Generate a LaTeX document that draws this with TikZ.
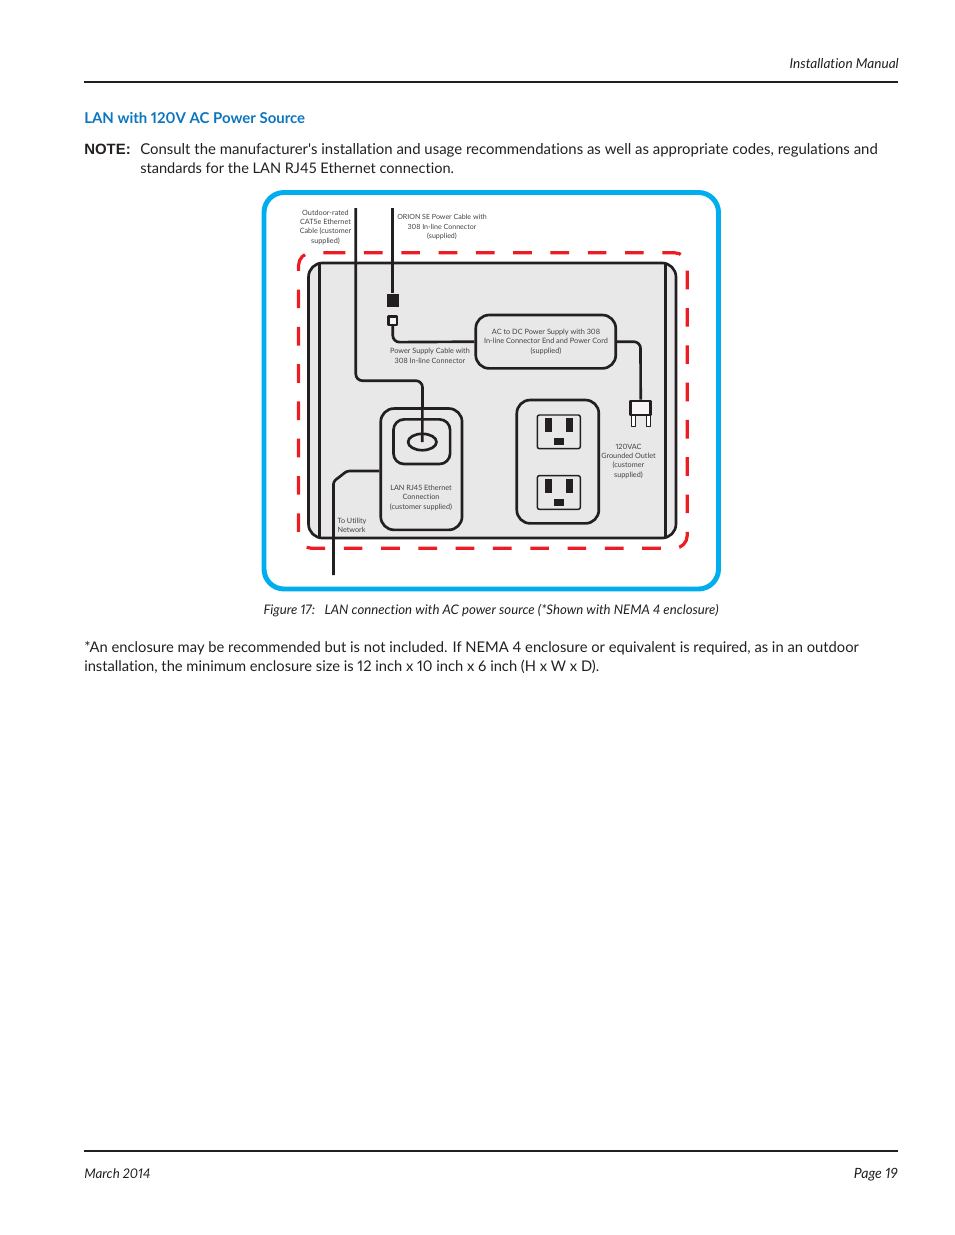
\documentclass[tikz,border=0pt]{standalone}
\usepackage{fontspec}
\setmainfont{Lato}[Ligatures=NoCommon,Numbers=Proportional]
\newfontfamily\notefont{Liberation Sans}
\usetikzlibrary{positioning,calc}
\definecolor{ink}{HTML}{231F20}
\definecolor{headcol}{HTML}{0B75C0}
\definecolor{framecol}{HTML}{00AEEF}
\definecolor{dashcol}{HTML}{ED1C24}
\definecolor{panelcol}{HTML}{E8E8E8}

\begin{document}
\begin{tikzpicture}[
  x=0.75pt, y=-0.75pt, line cap=butt, line join=round,
  body/.style={anchor=base west, inner sep=0pt, text=ink, font=\fontsize{11.2}{14.25}\selectfont},
  lbl/.style={align=center, inner sep=0pt, text=ink!85, font=\fontsize{5.45}{7}\selectfont},
  unit/.style={draw=ink, line width=2pt, rounded corners=10pt},
  cable/.style={draw=ink, line width=2pt, rounded corners=5pt},
  socket/.style={draw=ink, line width=1.1pt, rounded corners=1.5pt},
  slot/.style={fill=ink}]

\useasboundingbox (0,0) rectangle (954,1235);

% ================================================================ page furniture
\draw[ink, line width=1.5pt] (84,82) coordinate (headl) -- (898,82) coordinate (headr);
\node[body, anchor=base east, font=\fontsize{10.2}{12}\itshape\selectfont] (manual) at (899,68) {Installation Manual};
\node[body, text=headcol, font=\fontsize{11.2}{14}\bfseries\selectfont] (title) at (84,123) {LAN with 120V AC Power Source};
\node[body, font=\fontsize{11.2}{14}\notefont\bfseries\selectfont] (note) at (84,154) {NOTE:};
\node[body] (note1) at (140,154) {Consult the manufacturer\textquotesingle s installation and usage recommendations as well as appropriate codes, regulations and};
\node[body, font=\fontsize{10.92}{14}\selectfont] (note2) at (140,173) {standards for the LAN RJ45 Ethernet connection.};

% ================================================================ frame and enclosure
\draw[framecol, line width=3.7pt, rounded corners=15pt] (264,192.5) rectangle (718.5,589);

\node[draw=ink, fill=panelcol, line width=2pt, rounded corners=10.5pt, minimum width=275.6pt, minimum height=206.3pt, inner sep=0pt] (panel) at (492.25,400.5) {};
\draw[ink, line width=2pt] (319.5,263) coordinate (railla) -- (319.5,538) coordinate (raillb);
\draw[ink, line width=2pt] (665.5,263) coordinate (railra) -- (665.5,538) coordinate (railrb);

\draw[dashcol, line width=2.4pt, rounded corners=9.75pt, dash pattern=on 14pt off 13.97pt]
  (326.7,252.7) -| (687.3,548.3) -| (298.5,252.7) -- (326.7,252.7);

% ================================================================ units
\node[unit, minimum width=105pt, minimum height=40pt, inner sep=0pt, fill=panelcol] (psu) at (545.75,341.7) {};
\node[lbl, font=\fontsize{5.5}{7}\selectfont] (psutxt) at (546,341.7) {AC to DC Power Supply with 308\\In-line Connector End and Power Cord\\(supplied)};

\node[unit, minimum width=61pt, minimum height=91pt, inner sep=0pt] (lan) at (421.4,469.2) {};
\node[unit, rounded corners=8pt, minimum width=42.5pt, minimum height=33.5pt, inner sep=0pt] (jack) at (421.8,441.7) {};
\coordinate (hole) at (422.3,442);
\draw[ink, line width=2pt] (hole) ellipse (14.2 and 8.2);
\node[lbl] (lantxt) at (421,497.7) {LAN RJ45 Ethernet\\Connection\\(customer supplied)};

\node[unit, minimum width=61.5pt, minimum height=92.5pt, inner sep=0pt] (outlet) at (557.8,461.7) {};
\foreach \name/\ya in {upper/415, lower/475.7} {
  \draw[socket] (537.3,\ya) rectangle ++(43,33.6);
  \fill[slot] (545,\ya+3) rectangle ++(7,14);
  \fill[slot] (566,\ya+3) rectangle ++(6.5,14);
  \fill[slot] (554,\ya+23) rectangle ++(10,7);
}
\node[lbl] (outtxt) at (628.5,461.3) {120VAC\\Grounded Outlet\\(customer\\supplied)};

% ================================================================ connectors
\node[fill=ink, minimum width=9pt, minimum height=10pt, inner sep=0pt] (inlinem) at (393,300.3) {};
\node[draw=ink, fill=panelcol!40, line width=2pt, minimum width=6.5pt, minimum height=6.5pt, inner sep=0pt] (inlinef) at (392.8,320.5) {};

\node[draw=ink, fill=panelcol!40, line width=2pt, minimum width=15pt, minimum height=10.5pt, inner sep=0pt] (plug) at (640.7,408) {};
\draw[ink, fill=white, line width=0.7pt] (631,415.7) rectangle (635.7,426);
\draw[ink, fill=white, line width=0.7pt] (646,415.7) rectangle (650.7,426);

% ================================================================ cables
\coordinate (powertop) at (392.5,208);
\coordinate (ethertop) at (355.8,208);
\coordinate (utilend) at (333.5,575);

\draw[cable] (powertop) -- (inlinem.north -| powertop);
\draw[cable] (inlinef.south) -- ++(0,16) -- (psu.west);
\draw[cable] (psu.east) -- (640.5,341.7) -- (plug.north);
\draw[cable] (ethertop) -- (355.8,380.7) -- (422.5,380.7) -- (hole);
\draw[ink, line width=2pt, line join=round, rounded corners=2pt] (lan.west |- 0,471) -- (347,471) -- (333.5,481.5) -- (utilend);

% ================================================================ labels
\node[lbl] (ethertxt) at (325.5,227) {Outdoor-rated\\CAT5e Ethernet\\Cable (customer\\supplied)};
\node[lbl, font=\fontsize{5.3}{7}\selectfont] (powertxt) at (442,227.2) {ORION SE Power Cable with\\308 In-line Connector\\(supplied)};
\node[lbl] (cabletxt) at (430,355.7) {Power Supply Cable with\\308 In-line Connector};
\node[lbl, align=left] (utiltxt) at (352,525.3) {To Utility\\Network};

% ================================================================ caption and footer
\node[body, anchor=base, font=\fontsize{9.9}{12}\itshape\selectfont] (caption) at (491,614) {Figure 17:\hspace{7pt}LAN connection with AC power source (*Shown with NEMA 4 enclosure)};
\node[body, font=\fontsize{11.05}{14}\selectfont] (rec1) at (84,652) {*An enclosure may be recommended but is not included. If NEMA 4 enclosure or equivalent is required, as in an outdoor};
\node[body, font=\fontsize{11.02}{14}\selectfont] (rec2) at (84,671) {installation, the minimum enclosure size is 12 inch x 10 inch x 6 inch (H x W x D).};

\draw[ink, line width=1.5pt] (84,1151) coordinate (footl) -- (898,1151) coordinate (footr);
\node[body, font=\fontsize{10}{12}\itshape\selectfont] (date) at (84,1178) {March 2014};
\node[body, anchor=base east, font=\fontsize{10.6}{12}\itshape\selectfont] (page) at (898,1178) {Page 19};

\end{tikzpicture}
\end{document}
